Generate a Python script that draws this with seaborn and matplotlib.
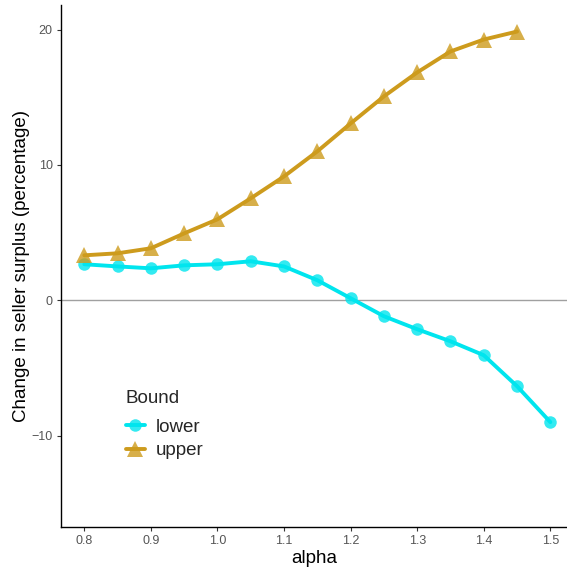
import matplotlib

matplotlib.use("Agg")

import matplotlib.pyplot as plt
from matplotlib.colors import to_rgba
import pandas as pd
import seaborn as sns

# =========================
# Data
# =========================

alpha_lower = [0.80, 0.85, 0.90, 0.95, 1.00, 1.05, 1.10, 1.15,
               1.20, 1.25, 1.30, 1.35, 1.40, 1.45, 1.50]
change_lower = [2.66, 2.50, 2.36, 2.58, 2.66, 2.88, 2.50, 1.48,
                0.15, -1.18, -2.14, -3.03, -4.06, -6.35, -9.00]

alpha_upper = [0.80, 0.85, 0.90, 0.95, 1.00, 1.05, 1.10, 1.15,
               1.20, 1.25, 1.30, 1.35, 1.40, 1.45]
change_upper = [3.32, 3.47, 3.84, 4.94, 5.98, 7.53, 9.15, 11.00,
                13.06, 15.06, 16.83, 18.38, 19.26, 19.85]

x_ticks = [0.8, 0.9, 1.0, 1.1, 1.2, 1.3, 1.4, 1.5]
y_ticks = [-10, 0, 10, 20]

df = pd.concat(
    [
        pd.DataFrame({"alpha": alpha_lower, "change": change_lower, "Bound": "lower"}),
        pd.DataFrame({"alpha": alpha_upper, "change": change_upper, "Bound": "upper"}),
    ],
    ignore_index=True,
)

# =========================
# Plot
# =========================

sns.set_theme(style="white")
plt.rcParams["font.family"] = ["Liberation Sans", "DejaVu Sans"]

fig = plt.figure(figsize=(5.67, 5.71), dpi=100)
ax = fig.add_axes([0.1076, 0.077, 0.8924, 0.914])

ax.axhline(0, color="#A0A0A0", linewidth=1.0, zorder=1)

sns.lineplot(
    data=df,
    x="alpha",
    y="change",
    hue="Bound",
    style="Bound",
    markers={"lower": "o", "upper": "^"},
    dashes=False,
    palette={"lower": "#00E5EE", "upper": "#CD9B1D"},
    linewidth=2.8,
    markersize=10,
    markeredgewidth=0,
    ax=ax,
    zorder=3,
)
# marker sizes: circles a bit smaller, triangles a bit larger
marker_sizes = {"o": 9, "^": 11}
for line in ax.lines[1:]:
    line.set_markerfacecolor(to_rgba(line.get_color(), 0.8))
    line.set_markersize(marker_sizes.get(line.get_marker(), 10))

ax.set_xlim(0.765, 1.525)
ax.set_ylim(-16.75, 21.8)
ax.set_xticks(x_ticks)
ax.set_xticklabels([f"{t:.1f}" for t in x_ticks])
ax.set_yticks(y_ticks)
ax.set_yticklabels(["\u221210", "0", "10", "20"])
ax.tick_params(axis="both", labelsize=9, colors="#555555", length=3,
               width=0.8, direction="out", bottom=True, left=True, pad=3)
ax.tick_params(axis="both", color="#333333")

ax.set_xlabel("alpha", fontsize=13.5, color="black", labelpad=2)
ax.set_ylabel("Change in seller surplus (percentage)", fontsize=13.5,
              color="black", labelpad=1)

sns.despine(ax=ax)
for side in ["left", "bottom"]:
    ax.spines[side].set_color("black")
    ax.spines[side].set_linewidth(1.0)

leg = ax.legend(
    title="Bound",
    loc="upper left",
    bbox_to_anchor=(0.095, 0.294),
    frameon=False,
    fontsize=13.5,
    title_fontsize=13.5,
    handlelength=1.0,
    handletextpad=0.6,
    labelspacing=0.35,
)
leg._legend_box.align = "left"
leg._legend_box.sep = 8
for handle in leg.legend_handles:
    handle.set_markerfacecolor(to_rgba(handle.get_color(), 0.8))
    handle.set_markersize(marker_sizes.get(handle.get_marker(), 10))

plt.savefig("out.png", dpi=100)
